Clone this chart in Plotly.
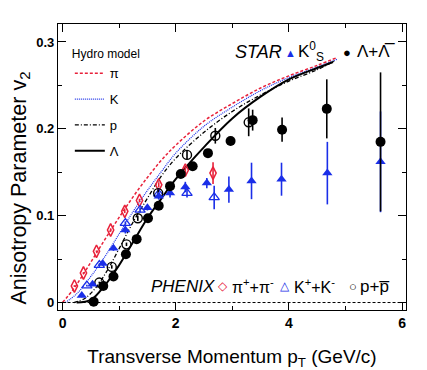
import plotly.graph_objects as go

# ---------------- data ----------------
# STAR Lambda + anti-Lambda (filled black circles)
lam_x = [0.55, 0.72, 0.90, 1.12, 1.31, 1.51, 1.70, 1.90, 2.09, 2.30, 2.57, 2.97, 3.36, 3.88, 4.67, 5.62]
lam_y = [0.001, 0.019, 0.030, 0.0555, 0.073, 0.097, 0.1115, 0.134, 0.148, 0.157, 0.172, 0.186, 0.210, 0.199, 0.223, 0.185]
lam_err = [0.002, 0.002, 0.002, 0.002, 0.002, 0.002, 0.002, 0.003, 0.003, 0.004, 0.004, 0.005, 0.012, 0.014, 0.034, 0.080]

# STAR K0s (filled blue triangles)
k0_x = [0.34, 0.53, 0.71, 0.90, 1.11, 1.50, 1.70, 1.90, 2.17, 2.55, 2.94, 3.34, 3.87, 4.68, 5.62]
k0_y = [0.008, 0.021, 0.045, 0.0625, 0.0835, 0.109, 0.1225, 0.126, 0.133, 0.1375, 0.130, 0.140, 0.142, 0.149, 0.162]
k0_err = [0.002, 0.002, 0.002, 0.003, 0.004, 0.003, 0.004, 0.005, 0.006, 0.006, 0.015, 0.021, 0.019, 0.036, 0.058]

# PHENIX pi+ + pi- (open red diamonds)
pi_x = [0.21, 0.37, 0.60, 0.85, 1.10, 1.36, 1.70, 2.17, 2.66]
pi_y = [0.019, 0.034, 0.059, 0.0835, 0.105, 0.1175, 0.1355, 0.1525, 0.149]
pi_err = [0.001, 0.001, 0.001, 0.002, 0.002, 0.002, 0.003, 0.004, 0.0125]

# PHENIX K+ + K- (open blue triangles)
kc_x = [0.43, 0.65, 1.11, 1.37, 1.70, 2.20, 2.68]
kc_y = [0.0195, 0.043, 0.0915, 0.1066, 0.125, 0.126, 0.121]
kc_err = [0.001, 0.002, 0.002, 0.003, 0.004, 0.005, 0.0135]

# PHENIX p + pbar (open black circles)
p_x = [0.65, 0.87, 1.13, 1.33, 1.69, 2.20, 2.70, 3.29]
p_y = [0.023, 0.041, 0.067, 0.097, 0.126, 0.170, 0.192, 0.2075]
p_err = [0.001, 0.002, 0.002, 0.003, 0.004, 0.005, 0.009, 0.016]

# Hydro model curves
hpi_x = [0.0, 0.2, 0.4, 0.6, 0.8, 1.0, 1.25, 1.5, 1.75, 2.0, 2.5, 3.0, 3.5, 4.0, 4.5, 4.85]
hpi_y = [0.0, 0.016, 0.036, 0.057, 0.078, 0.098, 0.122, 0.144, 0.164, 0.181, 0.209, 0.229, 0.247, 0.261, 0.273, 0.282]
hk_x = [0.05, 0.25, 0.5, 0.75, 1.0, 1.25, 1.5, 1.75, 2.0, 2.5, 3.0, 3.5, 4.0, 4.5, 4.85]
hk_y = [0.0, 0.010, 0.030, 0.053, 0.079, 0.105, 0.129, 0.151, 0.172, 0.203, 0.225, 0.244, 0.259, 0.271, 0.280]
hp_x = [0.2, 0.4, 0.6, 0.8, 1.0, 1.25, 1.5, 1.75, 2.0, 2.5, 3.0, 3.5, 4.0, 4.5, 4.8]
hp_y = [0.0, 0.005, 0.018, 0.038, 0.062, 0.093, 0.120, 0.146, 0.166, 0.196, 0.220, 0.239, 0.255, 0.268, 0.278]
hl_x = [0.25, 0.5, 0.75, 1.0, 1.25, 1.5, 1.75, 2.0, 2.5, 3.0, 3.5, 4.0, 4.5, 4.78]
hl_y = [0.0, 0.003, 0.020, 0.043, 0.070, 0.097, 0.120, 0.142, 0.179, 0.212, 0.237, 0.257, 0.270, 0.277]

zero_x = [0, 6]
zero_y = [0, 0]

x_ticks = [0, 2, 4, 6]
y_ticks = [0, 0.1, 0.2, 0.3]
y_ticklabels = ["0", "0.1", "0.2", "0.3"]

RED = "#e8213a"
BLUE = "#1a2ee8"
FONT = "Liberation Sans, Arial, sans-serif"

fig = go.Figure()

# zero line
fig.add_trace(go.Scatter(x=zero_x, y=zero_y, mode="lines", showlegend=False,
                         line=dict(color="black", width=1, dash="3px,2px"), hoverinfo="skip"))

# hydro curves (legend)
fig.add_trace(go.Scatter(x=hpi_x, y=hpi_y, mode="lines", name="π", legendgroup="a",
                         line=dict(color=RED, width=1.5, dash="3px,2px", shape="spline")))
fig.add_trace(go.Scatter(x=hk_x, y=hk_y, mode="lines", name="K", legendgroup="b",
                         line=dict(color=BLUE, width=1.2, dash="1px,1px", shape="spline")))
fig.add_trace(go.Scatter(x=hp_x, y=hp_y, mode="lines", name="p", legendgroup="c",
                         line=dict(color="black", width=1.3, dash="4px,2px,1px,2px", shape="spline")))
fig.add_trace(go.Scatter(x=hl_x, y=hl_y, mode="lines", name="Λ", legendgroup="d",
                         line=dict(color="black", width=2, shape="spline")))

def pts(x, y, err, color, symbol, size, lw=1.5, fill=None):
    return go.Scatter(
        x=x, y=y, mode="markers", showlegend=False,
        error_y=dict(type="data", array=err, color=color, thickness=1.6, width=0),
        marker=dict(symbol=symbol, size=size, color=fill if fill else color,
                    line=dict(color=color, width=lw)))

fig.add_trace(pts(pi_x, pi_y, pi_err, RED, "diamond-tall-open", 9, 1.5))
fig.add_trace(pts(kc_x, kc_y, kc_err, BLUE, "triangle-up-open", 9, 1.3))
fig.add_trace(pts(p_x, p_y, p_err, "black", "circle-open", 9, 1.4))
fig.add_trace(pts(k0_x, k0_y, k0_err, BLUE, "triangle-up", 9, 0))
fig.add_trace(pts(lam_x, lam_y, lam_err, "black", "circle", 10, 0))

# key texts for STAR and PHENIX
ann = []
def txt(x, y, t, size=18, color="black", anchor="left"):
    ann.append(dict(x=x, y=y, xref="x", yref="y", text=t, showarrow=False,
                    xanchor=anchor, yanchor="middle",
                    font=dict(family=FONT, size=size, color=color)))

txt(3.02, 0.2886, "<i>STAR</i>")
txt(4.02, 0.2870, "▲", size=11, color=BLUE, anchor="center")
txt(4.12, 0.2890, "K<sup>0</sup><sub>S</sub>", size=17)
txt(5.03, 0.2880, "●", size=13, anchor="center")
txt(5.16, 0.2886, "Λ+Λ̅", size=17)

txt(1.53, 0.0179, "<i>PHENIX</i>", size=17)
txt(2.84, 0.0185, "◇", size=12, color=RED, anchor="center")
txt(2.96, 0.0190, "π<sup>+</sup>+π<sup>-</sup>", size=16)
txt(3.94, 0.0185, "△", size=12, color=BLUE, anchor="center")
txt(4.05, 0.0190, "K<sup>+</sup>+K<sup>-</sup>", size=16)
txt(5.14, 0.0185, "○", size=13, anchor="center")
txt(5.22, 0.0179, "p+p̅", size=17)

# y-axis title (placed as rotated text, slightly below the axis centre as in the original)
ann.append(dict(x=-0.109, y=0.425, xref="paper", yref="paper",
                text="Anisotropy Parameter v<sub>2</sub>", showarrow=False, textangle=-90,
                xanchor="center", yanchor="middle",
                font=dict(family=FONT, size=21.5, color="black")))

axis_common = dict(showline=True, linecolor="black", linewidth=1.3, mirror="allticks",
                   ticks="inside", ticklen=8, tickwidth=1.2, tickcolor="black",
                   showgrid=False, zeroline=False, automargin=False)

# the page adds an 8px body margin, so the figure is 8px smaller and margins are shifted
fig.update_layout(
    width=419, height=362,
    margin=dict(l=50, r=21, t=16, b=60),
    paper_bgcolor="white", plot_bgcolor="white",
    font=dict(family=FONT, color="black"),
    annotations=ann,
    legend=dict(x=0.034, y=0.935, xanchor="left", yanchor="top",
                bgcolor="rgba(0,0,0,0)", traceorder="grouped", tracegroupgap=6,
                title=dict(text="Hydro model", font=dict(size=12, family=FONT)),
                font=dict(size=13, family=FONT), itemwidth=30),
    xaxis=dict(range=[-0.08, 6.07], tickvals=x_ticks,
               tickfont=dict(size=14, family=FONT, weight="bold"),
               minor=dict(dtick=1, ticks="inside", ticklen=4, tickcolor="black"),
               title=dict(text="Transverse Momentum p<sub>T</sub> (GeV/c)",
                          font=dict(size=19, family=FONT), standoff=20),
               **axis_common),
    yaxis=dict(range=[-0.0086, 0.3207], tickvals=y_ticks, ticktext=y_ticklabels,
               tickfont=dict(size=13, family=FONT, weight="bold"),
               minor=dict(dtick=0.05, ticks="inside", ticklen=4, tickcolor="black"),
               **axis_common),
)

fig.write_html("out.html")
